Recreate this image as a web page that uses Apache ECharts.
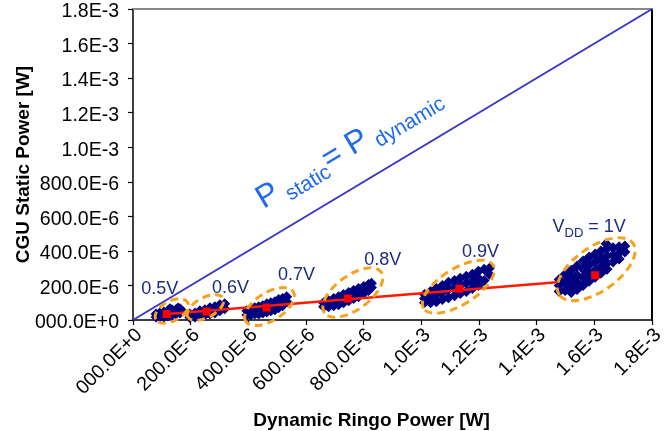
<!DOCTYPE html>
<html>
<head>
<meta charset="utf-8">
<script src="https://cdn.jsdelivr.net/npm/echarts@6/dist/echarts.min.js"></script>
<style>
  html, body { margin: 0; padding: 0; background: #fff; }
  #chart { width: 668px; height: 431px; }
</style>
</head>
<body>
<div id="chart"></div>
<script>
// All power values below are in microwatts; tick labels print them in watts.
const xTickLabels = ['000.0E+0', '200.0E-6', '400.0E-6', '600.0E-6', '800.0E-6',
                     '1.0E-3', '1.2E-3', '1.4E-3', '1.6E-3', '1.8E-3'];
const yTickLabels = ['000.0E+0', '200.0E-6', '400.0E-6', '600.0E-6', '800.0E-6',
                     '1.0E-3', '1.2E-3', '1.4E-3', '1.6E-3', '1.8E-3'];

const supplyLabels = ['0.5V', '0.6V', '0.7V', '0.8V', '0.9V', '{v|V}{d|DD}{v| = 1V}'];

// Mean (dynamic, static) power of each supply-voltage group
const clusterMeans = [[117, 35], [255, 49], [463, 72], [745, 124], [1132, 181], [1603, 259]];

// Linear fit through the group means
const fitLine = [[118, 35], [1471, 218]];

// Reference line: static power equals dynamic power
const equalityLine = [[0, 0], [1800, 1800]];

// Monte-Carlo samples, one array per supply voltage
const samples05 = [[80,35],[80,18],[93,41],[93,18],[107,47],[107,18],[121,53],[121,24],[128,65],
  [135,59],[135,29],[149,59],[149,35],[156,70],[163,65],[163,41],[170,53]];
const samples06 = [[197,35],[197,14],[215,41],[215,18],[224,32],[232,53],[232,24],[249,59],[249,29],
  [258,45],[267,71],[267,35],[284,76],[284,41],[301,88],[301,53],[318,94],[318,65]];
const samples07 = [[395,53],[395,29],[408,59],[408,29],[422,71],[422,35],[436,76],[436,59],[436,35],
  [450,82],[450,65],[450,41],[464,94],[464,71],[464,47],[478,100],[478,76],[478,53],
  [492,106],[492,82],[492,59],[505,118],[505,94],[505,71],[519,124],[519,82],[533,135],[533,106]];
const samples08 = [[661,100],[661,76],[678,112],[678,94],[678,76],[696,124],[696,106],[696,82],
  [713,135],[713,112],[713,88],[730,147],[730,124],[730,100],[748,159],[748,135],[748,112],
  [765,171],[765,147],[765,124],[782,182],[782,159],[782,135],[800,194],[800,165],[800,153],
  [817,206],[817,182],[817,171],[827,212],[827,188]];
const samples09 = [[1011,147],[1011,124],[1011,100],[1032,165],[1032,135],[1032,100],
  [1052,182],[1052,147],[1052,106],[1073,200],[1073,159],[1073,118],[1094,218],[1094,176],[1094,129],
  [1115,229],[1115,188],[1115,141],[1135,241],[1135,200],[1135,153],[1156,253],[1156,212],[1156,165],
  [1177,265],[1177,224],[1177,182],[1198,282],[1198,241],[1198,200],[1218,294],[1218,229],
  [1236,300],[1236,265]];
const samples10 = [[1478,235],[1478,200],[1478,165],[1499,265],[1499,218],[1499,171],
  [1520,288],[1520,241],[1520,194],[1520,159],[1540,312],[1540,259],[1540,218],[1540,176],
  [1561,341],[1561,294],[1561,247],[1561,200],[1582,365],[1582,318],[1582,271],[1582,224],
  [1603,382],[1603,335],[1603,288],[1603,247],[1623,400],[1623,353],[1623,306],[1623,271],
  [1644,412],[1644,371],[1644,329],[1644,294],[1665,418],[1665,376],[1665,335],
  [1686,424],[1686,388],[1686,353],[1706,429],[1706,394],[1641,441]];
const sampleGroups = [samples05, samples06, samples07, samples08, samples09, samples10];

// ---- styling / layout (pixels) ----
const FONT = '"Liberation Sans", Arial, sans-serif';
const INK = '#1c2b80';
const labelOffsets = [[-7, -25], [24, -24], [30, -33], [35, -39], [21, -37], [-6, -48]];
const ringShapes = [
  { dx: 5, dy: -3, rx: 18, ry: 10, tilt: 28 },
  { dx: -1, dy: -4, rx: 20, ry: 10, tilt: 28 },
  { dx: 3, dy: -1, rx: 28, ry: 14, tilt: 32 },
  { dx: 5, dy: -6, rx: 35, ry: 17, tilt: 36 },
  { dx: -1, dy: -2, rx: 41, ry: 18, tilt: 32 },
  { dx: 1, dy: -6, rx: 45, ry: 22, tilt: 35 }
];

const chart = echarts.init(document.getElementById('chart'), null, { renderer: 'canvas' });

const axisCommon = {
  type: 'value', min: 0, max: 1800, interval: 200,
  axisLine: { show: true, onZero: false, lineStyle: { color: '#000', width: 1.5 } },
  axisTick: { show: true, inside: false, length: 5, lineStyle: { color: '#000', width: 1.2 } },
  splitLine: { show: false },
  nameLocation: 'middle',
  nameMoveOverlap: false
};
const bareAxis = {
  type: 'value', min: 0, max: 1800, interval: 200,
  axisLine: { show: false }, axisTick: { show: false }, axisLabel: { show: false }, splitLine: { show: false }
};

const series = [];
sampleGroups.forEach(g => {
  series.push({
    type: 'scatter', data: g, symbol: 'diamond', symbolSize: 11,
    itemStyle: { color: '#000080', opacity: 1 }, z: 2, silent: true
  });
});
series.push({
  type: 'line', data: equalityLine, showSymbol: false, symbol: 'none',
  lineStyle: { color: '#3a36c8', width: 2 }, z: 1, silent: true
});
series.push({
  type: 'line', data: fitLine, showSymbol: false, symbol: 'none',
  lineStyle: { color: '#ff1a00', width: 2.5 }, z: 3, silent: true
});
series.push({
  type: 'custom', clip: false, z: 4, silent: true,
  data: clusterMeans.map((c, i) => [c[0], c[1], i]),
  renderItem(params, api) {
    const r = ringShapes[api.value(2)];
    const p = api.coord([api.value(0), api.value(1)]);
    return {
      type: 'ellipse',
      x: p[0] + r.dx, y: p[1] + r.dy,
      rotation: r.tilt * Math.PI / 180,
      shape: { cx: 0, cy: 0, rx: r.rx, ry: r.ry },
      style: { fill: 'none', stroke: '#f7a21d', lineWidth: 3, lineDash: [8, 5] }
    };
  }
});
series.push({
  type: 'scatter', data: clusterMeans, symbol: 'rect', symbolSize: 8,
  itemStyle: { color: '#ff0000', opacity: 1 }, z: 5, silent: true
});
series.push({
  type: 'scatter', symbolSize: 1, itemStyle: { color: 'rgba(0,0,0,0)', opacity: 1 }, z: 6, silent: true,
  data: clusterMeans.map((c, i) => ({
    value: c,
    label: {
      show: true, position: 'inside', offset: labelOffsets[i],
      formatter: supplyLabels[i],
      fontFamily: FONT, fontSize: 18, color: INK,
      rich: {
        v: { fontFamily: FONT, fontSize: 18, color: INK },
        d: { fontFamily: FONT, fontSize: 13, color: INK, padding: [12, 0, 0, 0] }
      }
    }
  }))
});

chart.setOption({
  animation: false,
  backgroundColor: '#fff',
  grid: [
    { left: 133, right: 16, top: 9, bottom: 111, containLabel: false, outerBoundsMode: 'none' },
    // carries only the rotated x tick labels, set a little right of the ticks
    { left: 139, right: 10, top: 9, bottom: 111, containLabel: false, outerBoundsMode: 'none' }
  ],
  xAxis: [Object.assign({}, axisCommon, {
    gridIndex: 0,
    name: 'Dynamic Ringo Power [W]', nameGap: 91,
    nameTextStyle: { fontFamily: FONT, fontWeight: 'bold', fontSize: 19, color: '#000', padding: [0, 42, 0, 0] },
    axisLabel: { show: false }
  }), Object.assign({}, bareAxis, {
    gridIndex: 0, position: 'top',
    axisLine: { show: true, onZero: false, lineStyle: { color: '#888', width: 2 } }
  }), Object.assign({}, bareAxis, {
    gridIndex: 1, position: 'bottom',
    axisLabel: { show: true, rotate: 45, interval: 0, margin: 12, fontFamily: FONT, fontSize: 19.5, color: '#000',
                 formatter: v => xTickLabels[Math.round(v / 200)] || '',
                 showMaxLabel: true, showMinLabel: true }
  })],
  yAxis: [Object.assign({}, axisCommon, {
    gridIndex: 0,
    name: 'CGU Static Power [W]', nameGap: 100, nameRotate: 90,
    nameTextStyle: { fontFamily: FONT, fontWeight: 'bold', fontSize: 19, color: '#000' },
    axisLabel: { margin: 14, formatter: v => '{t|' + (yTickLabels[Math.round(v / 200)] || '') + '}',
                 rich: { t: { fontFamily: FONT, fontSize: 19.5, color: '#000', padding: [6, 0, 0, 0] } },
                 showMaxLabel: true, showMinLabel: true }
  }), Object.assign({}, bareAxis, {
    gridIndex: 0, position: 'right',
    axisLine: { show: true, onZero: false, lineStyle: { color: '#000', width: 2 } }
  }), Object.assign({}, bareAxis, { gridIndex: 1 })],
  series: series
});

// Annotation of the equality line, set along its slope
function placeEqualityText() {
  const a = chart.convertToPixel({ gridIndex: 0 }, equalityLine[0]);
  const b = chart.convertToPixel({ gridIndex: 0 }, equalityLine[1]);
  const ang = Math.atan2(a[1] - b[1], b[0] - a[0]);
  const foot = chart.convertToPixel({ gridIndex: 0 }, [814, 814]);
  const dist = 37;
  const cx = foot[0] - Math.sin(ang) * dist;
  const cy = foot[1] - Math.cos(ang) * dist;
  chart.setOption({
    graphic: [{
      type: 'text', x: cx, y: cy, rotation: ang, silent: true, z: 10,
      style: {
        text: '{P|P}{s| static}{P|= P}{s| dynamic}',
        align: 'center', verticalAlign: 'middle',
        fill: '#1f6bf0', font: '32px ' + FONT,
        rich: {
          P: { fontFamily: FONT, fontSize: 32, fill: '#1f6bf0', lineHeight: 32 },
          s: { fontFamily: FONT, fontSize: 21, fill: '#1f6bf0', padding: [20, 0, 0, 0] }
        }
      }
    }]
  });
}
placeEqualityText();
</script>
</body>
</html>
